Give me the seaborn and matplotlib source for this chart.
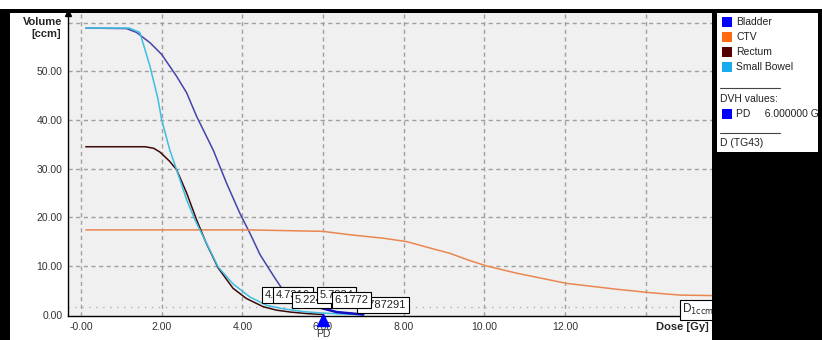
import matplotlib
matplotlib.use("Agg")
import matplotlib.pyplot as plt
import matplotlib.transforms as mtransforms
from matplotlib.patches import Rectangle
import pandas as pd
import seaborn as sns

# DVH curves (dose in Gy, volume in ccm)
bladder_dose = [0.12, 1.13, 1.38, 1.71, 2.0, 2.37, 2.62, 2.87, 3.28, 3.61, 3.94, 4.19, 4.44, 4.8, 5.01, 5.43, 5.84, 6.34, 7.0]
bladder_vol = [58.9, 58.8, 58.0, 55.9, 53.5, 49.0, 45.6, 40.7, 33.8, 27.0, 20.8, 16.7, 12.3, 7.6, 5.0, 3.0, 1.6, 0.5, 0.0]

ctv_dose = [0.12, 4.2, 6.0, 6.67, 7.49, 8.07, 8.82, 9.14, 9.6, 10.05, 10.8, 12.04, 13.28, 14.1, 14.85, 15.64]
ctv_vol = [17.4, 17.4, 17.1, 16.4, 15.7, 15.0, 13.3, 12.6, 11.2, 10.0, 8.5, 6.4, 5.2, 4.5, 4.0, 3.9]

rectum_dose = [0.12, 1.59, 1.8, 1.96, 2.2, 2.37, 2.62, 2.87, 3.11, 3.40, 3.77, 4.1, 4.52, 4.85, 5.2, 5.6, 6.0]
rectum_vol = [34.5, 34.5, 34.2, 33.4, 31.5, 29.8, 25.0, 19.4, 14.6, 9.6, 5.4, 3.3, 1.6, 0.9, 0.5, 0.2, 0.0]

bowel_dose = [0.12, 1.2, 1.46, 1.71, 1.91, 2.0, 2.2, 2.37, 2.62, 2.83, 3.11, 3.40, 3.77, 4.19, 4.6, 5.0, 5.5, 6.0, 6.5, 7.0]
bowel_vol = [58.9, 58.9, 58.0, 51.1, 44.3, 40.1, 33.9, 29.8, 23.6, 19.4, 14.7, 9.8, 6.3, 3.6, 1.9, 1.2, 0.6, 0.3, 0.1, 0.0]

structures = ["Bladder", "CTV", "Rectum", "Small Bowel"]
line_colors = ["#4444aa", "#ea8650", "#3c0808", "#40bde2"]
legend_colors = ["#0000ff", "#ff6a10", "#550000", "#1aaaee"]

x_ticks = [0, 2, 4, 6, 8, 10, 12, 14]
x_ticklabels = ["-0.00", "2.00", "4.00", "6.00", "8.00", "10.00", "12.00", ""]
y_ticks = [0, 10, 20, 30, 40, 50, 60]
y_ticklabels = ["0.00", "10.00", "20.00", "30.00", "40.00", "50.00", ""]

# dose value boxes near the curves
box_texts = ["4.4158", "4.7316", "5.2247", "5.7834", "6.787291", "6.1772"]
box_x = [4.56, 4.83, 5.30, 5.92, 6.91, 6.29]
box_y = [3.0, 3.0, 1.95, 3.0, 0.93, 1.95]

pd_dose = 6.0
ref_vol = 1.5

frames = []
for name, d, v in zip(structures,
                      [bladder_dose, ctv_dose, rectum_dose, bowel_dose],
                      [bladder_vol, ctv_vol, rectum_vol, bowel_vol]):
    frames.append(pd.DataFrame({"dose": d, "volume": v, "structure": name}))
df = pd.concat(frames, ignore_index=True)

sns.set_style("white")
plt.rcParams["font.family"] = ["Liberation Sans", "DejaVu Sans"]
plt.rcParams["lines.scale_dashes"] = False

W, H = 822, 340
fig = plt.figure(figsize=(W / 100, H / 100), dpi=100)
fig.patch.set_facecolor("white")


def fx(px):
    return px / W


def fy(py):
    return 1 - py / H


ax = fig.add_axes([fx(68), fy(316), fx(712) - fx(68), fy(13) - fy(316)])
ax.set_facecolor("#f0f0f0")

sns.lineplot(data=df, x="dose", y="volume", hue="structure", hue_order=structures,
             palette=dict(zip(structures, line_colors)), estimator=None, sort=False,
             linewidth=1.1, legend=False, ax=ax, zorder=3)

ax.set_xlim(-0.32, 15.64)
ax.set_ylim(-0.3, 62.0)
ax.set_xticks(x_ticks)
ax.set_xticklabels(x_ticklabels)
ax.set_yticks(y_ticks)
ax.set_yticklabels(y_ticklabels)
ax.set_xlabel("")
ax.set_ylabel("")
ax.tick_params(axis="both", labelsize=7.5, labelcolor="#333333", length=3, width=0.8,
               color="#333333", pad=1)
ax.tick_params(axis="x", length=0, pad=4)

for s in ["top", "right"]:
    ax.spines[s].set_visible(False)
for s in ["left", "bottom"]:
    ax.spines[s].set_color("black")
    ax.spines[s].set_linewidth(1.0)

grid_kw = dict(color="#a0a0a0", linewidth=1.0, linestyle=(0, (3, 2.5)), zorder=1)
for xv in x_ticks:
    ax.axvline(xv, **grid_kw)
for yv in y_ticks[1:]:
    ax.axhline(yv, **grid_kw)
ax.axhline(ref_vol, color="#b0b0b0", linewidth=1.0, linestyle=(0, (1, 4)), zorder=1)

# thicker blue piece of bladder near zero around PD
low = df[(df.structure == "Bladder") & (df.dose >= 5.4)]
ax.plot(low.dose, low.volume, color="#1010c0", linewidth=1.8, zorder=3)

# value boxes
for t, bx, by in zip(box_texts, box_x, box_y):
    ax.text(bx, by, t, fontsize=8, color="#222222", ha="left", va="bottom", zorder=5,
            bbox=dict(boxstyle="square,pad=0.25", facecolor="white", edgecolor="black", linewidth=0.8))

ax.text(14.9, -0.55, r"D$_{\mathrm{1ccm}}$", fontsize=8.5, ha="left", va="bottom", zorder=5,
        clip_on=False,
        bbox=dict(boxstyle="square,pad=0.22", facecolor="white", edgecolor="black", linewidth=0.8))

# PD marker on the dose axis
trans = mtransforms.blended_transform_factory(ax.transData, ax.transAxes)
ax.plot([pd_dose], [-0.014], marker="^", markersize=8, color="#0000ff", transform=trans,
        clip_on=False, zorder=6)
ax.text(pd_dose, -0.058, "PD", transform=trans, fontsize=7.5, color="#333333",
        ha="center", va="center", clip_on=False)

# y-axis arrow head
ax.plot([0], [1.0], marker="^", markersize=5, color="black", clip_on=False, zorder=6,
        transform=mtransforms.blended_transform_factory(ax.transAxes, ax.transAxes))

fig.text(fx(62), fy(22), "Volume", fontsize=8, fontweight="bold", ha="right", va="center")
fig.text(fx(61), fy(34), "[ccm]", fontsize=8, fontweight="bold", ha="right", va="center")
fig.text(fx(709), fy(327), "Dose [Gy]", fontsize=8, fontweight="bold", ha="right", va="center")

# black frame parts of the screenshot
for x0, y0, x1, y1 in [(0, 9, W, 13), (0, 9, 10, H), (712, 9, W, H)]:
    fig.patches.append(Rectangle((fx(x0), fy(y1)), fx(x1) - fx(x0), fy(y0) - fy(y1),
                                 transform=fig.transFigure, facecolor="black",
                                 edgecolor="none", zorder=8))

# legend panel
lg = fig.add_axes([fx(717), fy(152), fx(818) - fx(717), fy(13) - fy(152)], zorder=9)
lg.set_facecolor("white")
lg.set_xlim(0, 101)
lg.set_ylim(139, 0)
lg.set_xticks([])
lg.set_yticks([])
for s in lg.spines.values():
    s.set_visible(False)

for i, (name, c) in enumerate(zip(structures, legend_colors)):
    yc = 9 + i * 15
    lg.add_patch(Rectangle((5, yc - 5), 10, 10, facecolor=c, edgecolor="none"))
    lg.text(19, yc, name, fontsize=7.5, color="#222222", va="center", ha="left")

lg.plot([3, 63], [75, 75], color="#444444", linewidth=0.8)
lg.text(3, 86, "DVH values:", fontsize=7.5, color="#222222", va="center", ha="left")
lg.add_patch(Rectangle((5, 96), 10, 10, facecolor="#0000ff", edgecolor="none"))
lg.text(19, 101, "PD     6.000000 G", fontsize=7.5, color="#222222", va="center", ha="left",
        clip_on=True)
lg.plot([3, 63], [120, 120], color="#444444", linewidth=0.8)
lg.text(3, 130, "D (TG43)", fontsize=7.5, color="#222222", va="center", ha="left")

fig.savefig("out.png", dpi=100)
